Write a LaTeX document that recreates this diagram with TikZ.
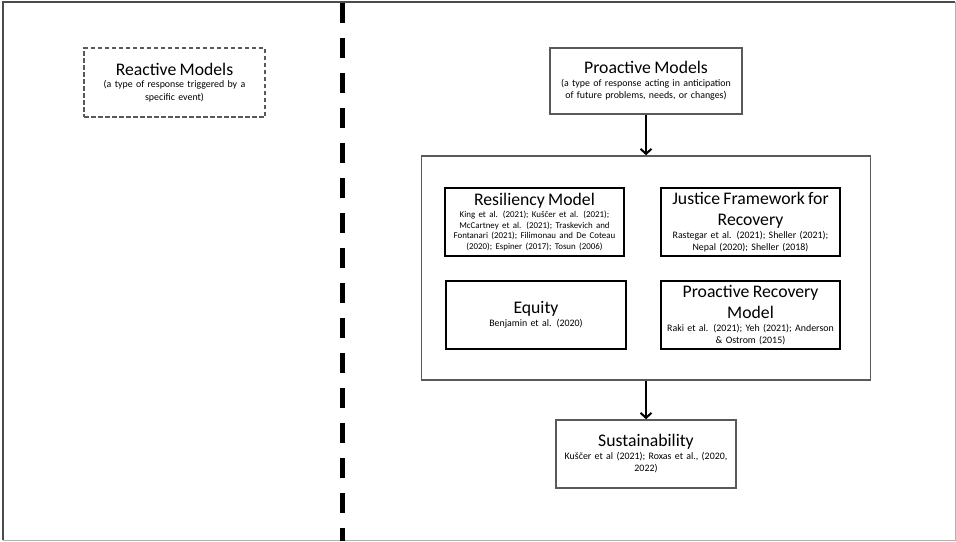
\documentclass[tikz,border=0pt]{standalone}
\usepackage{fontspec}
\setmainfont{Carlito}
\usetikzlibrary{arrows.meta}

\newcommand{\mtitle}[1]{{\fontsize{17.7}{21.5}\selectfont #1\par}}
\newcommand{\msub}[1]{{\fontsize{9.9}{12.6}\selectfont #1\par}}
\newcommand{\mcite}[1]{{\vspace{1pt}\fontsize{9.9}{12}\selectfont #1\par}}
\newcommand{\mcitesmall}[1]{{\vspace{1.5pt}\fontsize{8.9}{10.7}\selectfont #1\par}}

\tikzset{
  modelbox/.style={draw=black, line width=1.3pt, inner sep=2pt, text width=175pt,
    minimum height=68pt, align=center},
  groupbox/.style={draw=black!65, line width=1.6pt, inner sep=2pt, align=center},
  flow/.style={line width=2pt, -{Straight Barb[length=5pt,width=11pt]}},
}

\begin{document}
\begin{tikzpicture}[x=1pt,y=-1pt]
  \useasboundingbox (0,0) rectangle (956,541);

  % page edge and divider
  \draw[black!30, line width=1pt] (955,2) -- (955,540) -- (3,540);
  \draw[black!70, line width=1.3pt] (3,540) -- (3,2) -- (955,2);
  \draw[line width=5pt, dash pattern=on 20pt off 15pt] (342,3) -- (342,541);

  \node[groupbox, dash pattern=on 4.5pt off 2.5pt, text width=177pt, minimum height=69pt] (RM) at (174.5,82.5)
    {\mtitle{Reactive Models}\msub{(a type of response triggered by a\\specific event)}};

  \node[groupbox, text width=188pt, minimum height=66pt] (PM) at (646,81)
    {\mtitle{Proactive Models}\msub{(a type of response acting in anticipation\\of future problems, needs, or changes)}};

  \node[groupbox, minimum width=449pt, minimum height=224pt] (BOX) at (646,268) {};

  \node[modelbox] (RES) at (534.5,222)
    {\mtitle{Resiliency Model}\mcitesmall{King et al. (2021); Kuščer et al. (2021);\\McCartney et al. (2021); Traskevich and\\Fontanari (2021); Filimonau and De Coteau\\(2020); Espiner (2017); Tosun (2006)}};
  \node[modelbox] (JFR) at (750.5,222)
    {\mtitle{Justice Framework for\\Recovery}\mcite{Rastegar et al. (2021); Sheller (2021);\\Nepal (2020); Sheller (2018)}};
  \node[modelbox, text width=176pt] (EQ) at (536,315)
    {\mtitle{Equity}\mcite{Benjamin et al. (2020)}};
  \node[modelbox] (PRM) at (750.5,315)
    {\mtitle{Proactive Recovery\\Model}\mcite{Raki et al. (2021); Yeh (2021); Anderson\\\& Ostrom (2015)}};

  \node[groupbox, text width=176pt, minimum height=68pt] (SUS) at (646,454)
    {\mtitle{Sustainability}\mcite{Kuščer et al (2021); Roxas et al., (2020,\\2022)}};

  \draw[flow] (PM) to (BOX);
  \draw[flow] (BOX) to (SUS);
\end{tikzpicture}
\end{document}
